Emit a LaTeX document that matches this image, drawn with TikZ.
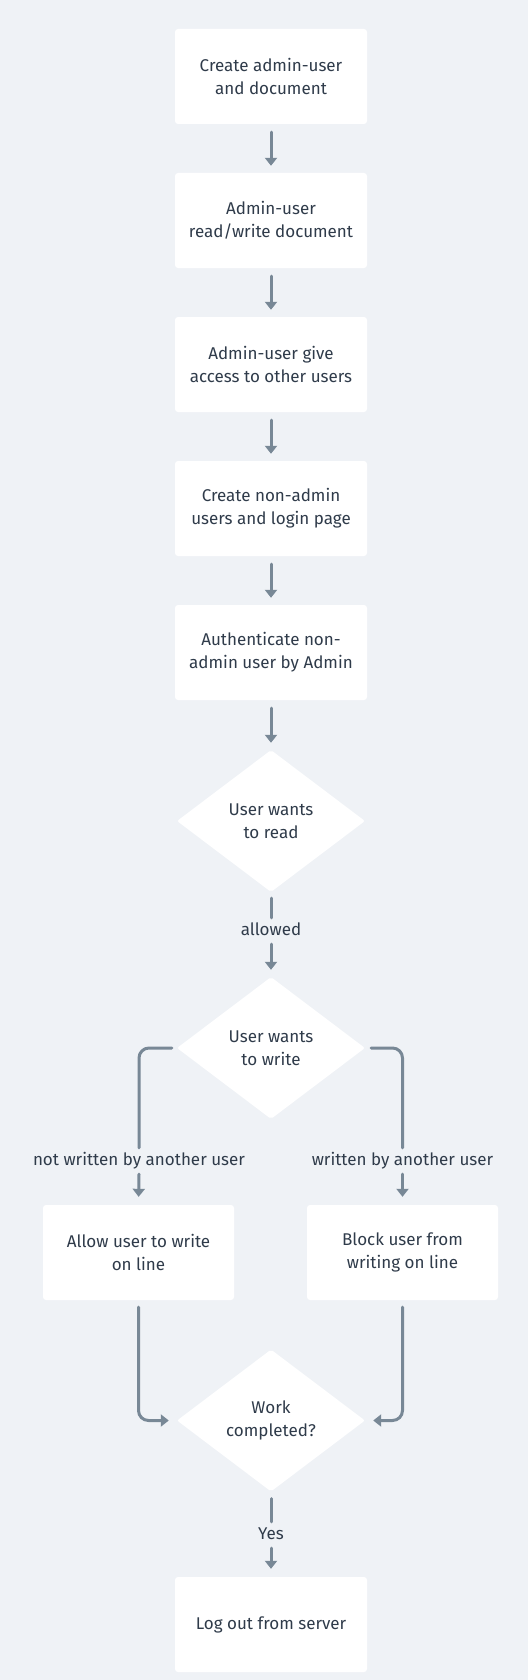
\documentclass[tikz,border=0pt]{standalone}
\usepackage{fontspec}
\setmainfont{Fira Sans}
\usetikzlibrary{shapes.geometric,arrows.meta}
\definecolor{bgc}{HTML}{EFF2F6}
\definecolor{linec}{HTML}{788896}
\definecolor{txtc}{HTML}{2F3B4A}
\tikzset{
  stepbox/.style={rectangle, rounded corners=3pt, fill=white, minimum width=192pt, minimum height=95pt, inner sep=0pt, align=center, text=txtc, font=\fontsize{17}{23}\selectfont},
  decide/.style={diamond, aspect=1.32, fill=white, minimum width=188pt, minimum height=142pt, inner sep=0pt, align=center, text=txtc, font=\fontsize{17}{23}\selectfont, rounded corners=2pt},
  lbl/.style={inner sep=0pt, text height=12pt, text depth=3pt, minimum height=26pt, text=txtc, font=\fontsize{17}{23}\selectfont},
  conn/.style={draw=linec, line width=3pt, line cap=round},
  arr/.style={conn, -{Triangle[width=12pt,length=8pt]}},
}
\begin{document}
\begin{tikzpicture}[x=1pt,y=-1pt]
\fill[bgc] (0,0) rectangle (528,1680);
\useasboundingbox (0,0) rectangle (528,1680);
\node[stepbox] (b1) at (271,76.5) {Create admin-user\\and document};
\node[stepbox] (b2) at (271,220.5) {Admin-user\\read/write document};
\node[stepbox] (b3) at (271,364.5) {Admin-user give\\access to other users};
\node[stepbox] (b4) at (271,508.5) {Create non-admin\\users and login page};
\node[stepbox] (b5) at (271,652.5) {Authenticate non-\\admin user by Admin};
\node[decide] (d1) at (271,821) {User wants\\to read};
\node[lbl] (l1) at (271,931) {allowed};
\node[decide] (d2) at (271,1048) {User wants\\to write};
\node[lbl] (l2) at (139,1161) {not written by another user};
\node[lbl] (l3) at (402.5,1161) {written by another user};
\node[stepbox, minimum width=191pt] (b6) at (138.5,1252.5) {Allow user to write\\on line};
\node[stepbox, minimum width=191pt] (b7) at (402.5,1252.5) {Block user from\\writing on line};
\node[decide] (d3) at (271,1420.5) {Work\\completed?};
\node[lbl] (l4) at (271,1535) {Yes};
\node[stepbox] (b8) at (271,1624.5) {Log out from server};

\draw[arr, shorten <=8pt, shorten >=7pt] (b1) -- (b2);
\draw[arr, shorten <=8pt, shorten >=7pt] (b2) -- (b3);
\draw[arr, shorten <=8pt, shorten >=7pt] (b3) -- (b4);
\draw[arr, shorten <=8pt, shorten >=7pt] (b4) -- (b5);
\draw[arr, shorten <=8pt, shorten >=7pt] (b5) -- (d1);
\draw[conn, shorten <=6pt] (d1.south) -- (l1.north);
\draw[arr, shorten >=7pt] (l1.south) -- (d2.north);
\draw[conn, rounded corners=10pt, shorten <=5pt] (d2.west) -| (l2.north);
\draw[conn, rounded corners=10pt, shorten <=6pt] (d2.east) -| (l3.north);
\draw[arr, shorten >=8pt] (l2.south) -- (b6.north);
\draw[arr, shorten >=8pt] (l3.south) -- (b7.north);
\draw[arr, rounded corners=10pt, shorten <=7pt, shorten >=8pt] (b6.south) |- (d3.west);
\draw[arr, rounded corners=10pt, shorten <=7pt, shorten >=8pt] (b7.south) |- (d3.east);
\draw[conn, shorten <=7pt] (d3.south) -- (l4.north);
\draw[arr, shorten >=8pt] (l4.south) -- (b8.north);
\end{tikzpicture}
\end{document}
